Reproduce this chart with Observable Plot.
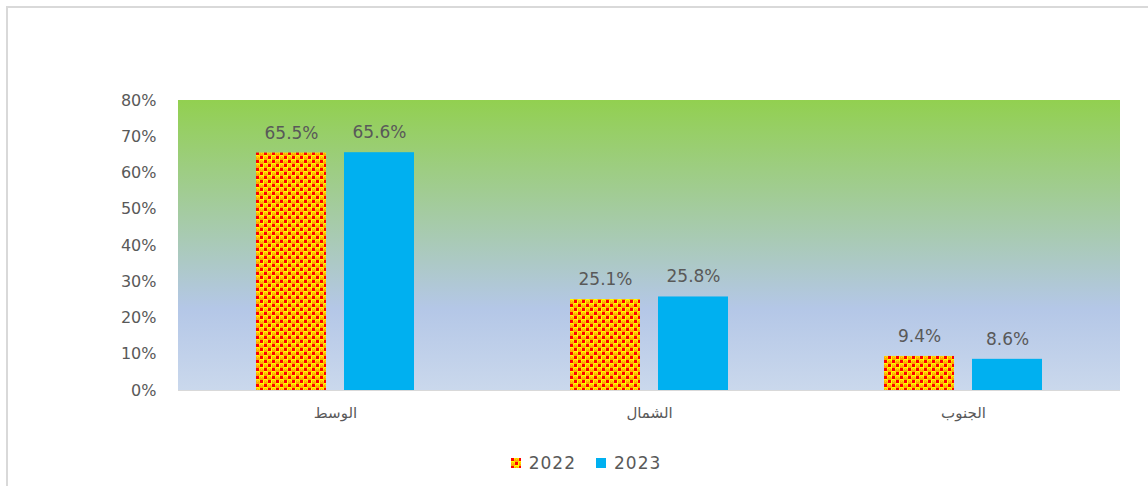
<!DOCTYPE html>
<html>
<head>
<meta charset="utf-8">
<script src="https://cdn.jsdelivr.net/npm/d3@7"></script>
<script src="https://cdn.jsdelivr.net/npm/@observablehq/plot@0.6"></script>
<style>
  html, body { margin: 0; padding: 0; background: #fff; }
  #wrap { position: relative; width: 1148px; height: 486px; overflow: hidden; font-family: "DejaVu Sans", sans-serif; }
  #border { position: absolute; left: 6px; top: 6px; width: 1200px; height: 600px; border-left: 2px solid #d9d9d9; border-top: 2px solid #d9d9d9; }
  #bg { position: absolute; left: 178px; top: 100px; width: 942px; height: 290px;
        background: linear-gradient(to bottom, #92D050 0%, #B4C7E7 72%, #CAD8EC 100%); }
  #chart { position: absolute; left: 0; top: 0; }
  #legend { position: absolute; left: 0; top: 451px; width: 1148px; height: 24px; display: flex; justify-content: center; align-items: center; gap: 20px; color: #595959; font-size: 17px; letter-spacing: 1px; padding-left: 24px; box-sizing: border-box; }
  .item { display: flex; align-items: center; gap: 8px; }
</style>
</head>
<body>
<div id="wrap">
  <div id="border"></div>
  <div id="bg"></div>
  <div id="chart"></div>
  <div id="legend"></div>
</div>
<script>
const regions = ["الوسط", "الشمال", "الجنوب"];
const years = ["2022", "2023"];
const values2022 = [0.655, 0.251, 0.094];
const values2023 = [0.656, 0.258, 0.086];
const yTicks = [0, 0.1, 0.2, 0.3, 0.4, 0.5, 0.6, 0.7, 0.8];
const colors = {"2022": "url(#confetti)", "2023": "#00B0F0"};

const data = [];
regions.forEach((r, i) => {
  data.push({region: r, year: "2022", value: values2022[i]});
  data.push({region: r, year: "2023", value: values2023[i]});
});

const gray = "#595959";
const chart = Plot.plot({
  width: 1148,
  height: 445,
  marginLeft: 178,
  marginRight: 28,
  marginTop: 100,
  marginBottom: 55,
  style: {fontFamily: "DejaVu Sans, sans-serif", background: "transparent", overflow: "visible"},
  fx: {domain: regions, padding: 0, label: null},
  x: {domain: years, paddingInner: 0.2045, paddingOuter: 0.886, axis: null},
  y: {domain: [0, 0.8], ticks: yTicks, tickFormat: d3.format(".0%"), label: null},
  marks: [
    Plot.ruleY([0], {stroke: "#d9d9d9", strokeWidth: 1}),
    Plot.barY(data, {fx: "region", x: "year", y: "value", fill: d => colors[d.year]}),
    Plot.text(data, {fx: "region", x: "year", y: "value", text: d => d3.format(".1%")(d.value), dy: -20, fill: gray, fontSize: 17, style: "letter-spacing:1px"}),
    Plot.axisY({ticks: yTicks, tickFormat: d3.format(".0%"), tickSize: 0, tickPadding: 22, fontSize: 16, fill: gray, label: null, style: "letter-spacing:1px"}),
    Plot.axisFx({anchor: "bottom", tickSize: 0, tickPadding: 17, fontSize: 15, fill: gray, label: null})
  ]
});

const ns = "http://www.w3.org/2000/svg";
function patternDefs(svg, id) {
  const defs = document.createElementNS(ns, "defs");
  defs.innerHTML = `
    <pattern id="${id}" patternUnits="userSpaceOnUse" width="8" height="8">
      <rect width="8" height="8" fill="#FFFF00"/>
      <circle cx="5.5" cy="2.5" r="2.3" fill="#FFA800"/>
      <circle cx="1.5" cy="6.5" r="2.3" fill="#FFA800"/>
      <rect x="0" y="0" width="3" height="3" fill="#FF0000"/>
      <rect x="4" y="4" width="3" height="3" fill="#FF0000"/>
      <rect x="5" y="1" width="1" height="1" fill="#FFE000"/>
      <rect x="1" y="5" width="1" height="1" fill="#FFE000"/>
    </pattern>`;
  svg.insertBefore(defs, svg.firstChild);
}
patternDefs(chart, "confetti");
document.getElementById("chart").appendChild(chart);

const legend = document.getElementById("legend");
years.forEach(y => {
  const item = document.createElement("div");
  item.className = "item";
  const sw = document.createElementNS(ns, "svg");
  sw.setAttribute("width", "10");
  sw.setAttribute("height", "10");
  const r = document.createElementNS(ns, "rect");
  r.setAttribute("width", "10"); r.setAttribute("height", "10");
  if (y === "2022") {
    patternDefs(sw, "confettiLegend");
    r.setAttribute("fill", "url(#confettiLegend)");
  } else {
    r.setAttribute("fill", colors[y]);
  }
  sw.appendChild(r);
  const t = document.createElement("span");
  t.textContent = y;
  item.appendChild(sw);
  item.appendChild(t);
  legend.appendChild(item);
});
</script>
</body>
</html>
